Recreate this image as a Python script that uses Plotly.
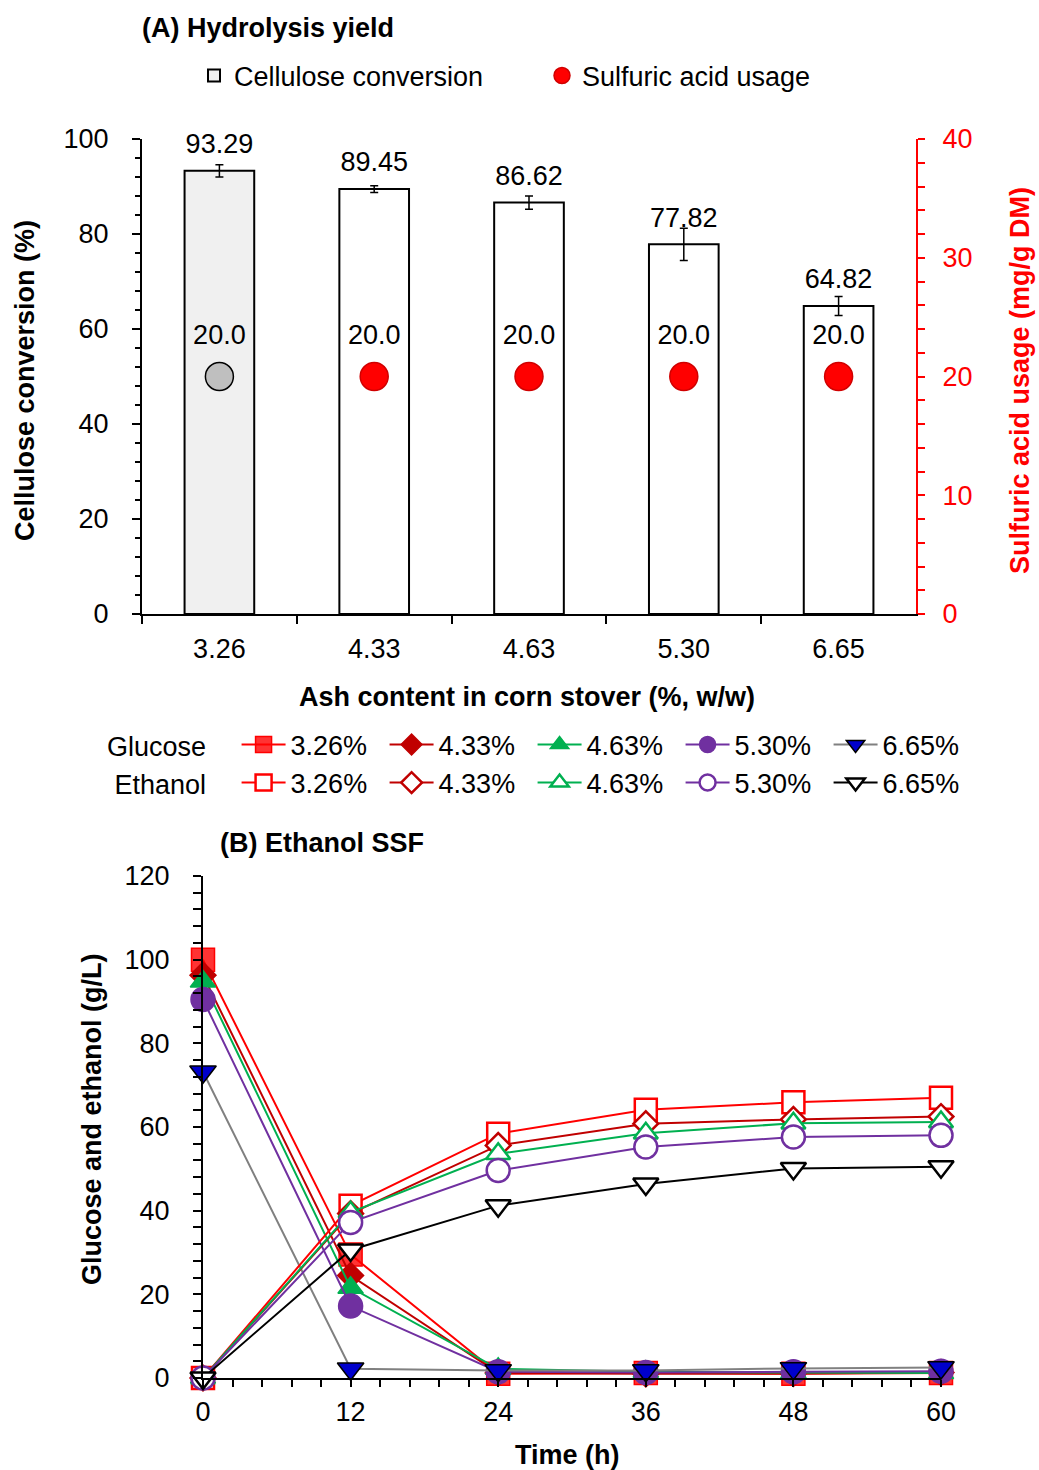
import plotly.graph_objects as go

W, H = 1039, 1470
FONT = "Liberation Sans, Arial, sans-serif"
FS = 27

# ---------------- Panel A data ----------------
ash_labels = ["3.26", "4.33", "4.63", "5.30", "6.65"]
cellulose_conv = [93.29, 89.45, 86.62, 77.82, 64.82]
cellulose_err = [1.3, 0.7, 1.4, 3.4, 2.0]
acid_usage = [20.0, 20.0, 20.0, 20.0, 20.0]

# ---------------- Panel B data ----------------
time_h = [0, 12, 24, 36, 48, 60]
series_names = ["3.26%", "4.33%", "4.63%", "5.30%", "6.65%"]
glucose = {
    "3.26%": [100.0, 29.5, 1.0, 1.2, 1.0, 1.2],
    "4.33%": [96.3, 24.5, 1.2, 1.0, 1.1, 1.3],
    "4.63%": [94.8, 21.6, 2.2, 1.5, 1.3, 1.2],
    "5.30%": [90.5, 17.2, 1.5, 1.3, 1.5, 1.6],
    "6.65%": [73.2, 2.2, 1.8, 1.8, 2.3, 2.5],
}
ethanol = {
    "3.26%": [0.0, 41.2, 58.4, 64.1, 65.9, 67.0],
    "4.33%": [0.0, 39.3, 55.6, 60.8, 61.8, 62.5],
    "4.63%": [0.0, 39.6, 53.6, 58.5, 60.9, 61.2],
    "5.30%": [0.0, 37.2, 49.6, 55.2, 57.6, 58.0],
    "6.65%": [0.0, 30.6, 41.2, 46.4, 50.1, 50.5],
}

# ---------------- styles ----------------
glu_style = {
    "3.26%": dict(symbol="square", size=23, fill="rgba(255,0,0,0.8)", edge="#FF0000", line="#FF0000"),
    "4.33%": dict(symbol="diamond", size=20, fill="#C00000", edge="#C00000", line="#C00000"),
    "4.63%": dict(symbol="triangle-up", size=22, fill="#00B050", edge="#00B050", line="#00B050"),
    "5.30%": dict(symbol="circle", size=24, fill="#7030A0", edge="#7030A0", line="#7030A0"),
    "6.65%": dict(symbol="triangle-down", size=23, fill="#0000CC", edge="#000000", line="#808080"),
}
eth_style = {
    "3.26%": dict(symbol="square", size=22, edge="#FF0000", line="#FF0000"),
    "4.33%": dict(symbol="diamond", size=19, edge="#C00000", line="#C00000"),
    "4.63%": dict(symbol="triangle-up", size=21, edge="#00B050", line="#00B050"),
    "5.30%": dict(symbol="circle", size=23, edge="#7030A0", line="#7030A0"),
    "6.65%": dict(symbol="triangle-down", size=22, edge="#000000", line="#000000"),
}

fig = go.Figure()

# Panel A bars
fig.add_trace(go.Bar(
    x=ash_labels, y=cellulose_conv, name="Cellulose conversion",
    marker=dict(color=["#F0F0F0", "white", "white", "white", "white"],
                line=dict(color="black", width=2)),
    width=0.45,
    error_y=dict(type="data", array=cellulose_err, thickness=1.5, width=4, color="black"),
    xaxis="x", yaxis="y", legend="legend",
))
# bar value labels (fixed offset above bar top)
fig.add_trace(go.Scatter(
    x=ash_labels, y=cellulose_conv,
    mode="markers+text", text=[f"{v:.2f}" for v in cellulose_conv],
    marker=dict(size=16, opacity=0),
    textposition="top center", textfont=dict(size=FS, color="black", family=FONT),
    showlegend=False, xaxis="x", yaxis="y", cliponaxis=False, hoverinfo="skip",
))
# acid usage: reference (grey) point and others (red)
fig.add_trace(go.Scatter(
    x=ash_labels[:1], y=acid_usage[:1], mode="markers", showlegend=False,
    marker=dict(size=28, color="#BFBFBF", line=dict(color="#000000", width=1.5)),
    xaxis="x", yaxis="y2", cliponaxis=False,
))
fig.add_trace(go.Scatter(
    x=ash_labels[1:], y=acid_usage[1:], name="Sulfuric acid usage", mode="markers",
    marker=dict(size=28, color="#FF0000", line=dict(color="#D00000", width=1.5)),
    xaxis="x", yaxis="y2", legend="legend", cliponaxis=False,
))
# acid usage value labels
fig.add_trace(go.Scatter(
    x=ash_labels, y=acid_usage, mode="markers+text",
    text=[f"{v:.1f}" for v in acid_usage], textposition="top center",
    marker=dict(size=40, opacity=0),
    textfont=dict(size=FS, color="black", family=FONT),
    showlegend=False, xaxis="x", yaxis="y2", cliponaxis=False, hoverinfo="skip",
))

# Panel B traces
for n in series_names:
    s = glu_style[n]
    fig.add_trace(go.Scatter(
        x=time_h, y=glucose[n], name=n, mode="lines+markers",
        line=dict(color=s["line"], width=2),
        marker=dict(symbol=s["symbol"], size=s["size"], color=s["fill"],
                    line=dict(color=s["edge"], width=1.5)),
        xaxis="x2", yaxis="y3", legend="legend2", cliponaxis=False,
    ))
for n in series_names:
    s = eth_style[n]
    fig.add_trace(go.Scatter(
        x=time_h, y=ethanol[n], name=n, mode="lines+markers",
        line=dict(color=s["line"], width=2),
        marker=dict(symbol=s["symbol"], size=s["size"], color="white",
                    line=dict(color=s["edge"], width=2.5)),
        xaxis="x2", yaxis="y3", legend="legend3", cliponaxis=False,
    ))


def px_x(p):
    return p / W


def px_y(p):
    return 1 - p / H


axis_common = dict(showline=True, linecolor="black", linewidth=2, showgrid=False,
                   zeroline=False, ticks="outside", tickcolor="black", tickwidth=2,
                   automargin=False,
                   tickfont=dict(size=FS, color="black", family=FONT))

NB = "&nbsp;"

fig.update_layout(
    width=W, height=H,
    margin=dict(l=0, r=0, t=0, b=0, autoexpand=False),
    paper_bgcolor="white", plot_bgcolor="white",
    font=dict(family=FONT, size=FS, color="black"),
    xaxis=dict(**axis_common, domain=[px_x(142), px_x(916)], anchor="y",
               type="category", range=[-0.5, 4.5], tickson="boundaries",
               ticklen=8, ticklabelstandoff=10),
    yaxis=dict(**axis_common, domain=[px_y(614), px_y(139)], anchor="x",
               range=[0, 100], dtick=20, ticklen=8, ticklabelstandoff=18,
               minor=dict(dtick=4, ticks="outside", ticklen=5, tickwidth=2, tickcolor="black")),
    yaxis2=dict(showline=True, linecolor="#FF0000", linewidth=2, showgrid=False, zeroline=False,
                ticks="outside", tickcolor="#FF0000", tickwidth=2, ticklen=7, automargin=False,
                tickfont=dict(size=FS, color="#FF0000", family=FONT),
                overlaying="y", side="right", anchor="x", range=[0, 40], dtick=10,
                ticklabelstandoff=12,
                minor=dict(dtick=2, ticks="outside", ticklen=7, tickwidth=2, tickcolor="#FF0000")),
    xaxis2=dict(**axis_common, domain=[px_x(203), px_x(941)], anchor="y3",
                range=[0, 60], tickvals=[0, 12, 24, 36, 48, 60], ticklen=7,
                ticklabelstandoff=2,
                minor=dict(dtick=2.4, ticks="outside", ticklen=7, tickwidth=2, tickcolor="black")),
    yaxis3=dict(**axis_common, domain=[px_y(1378), px_y(876)], anchor="x2",
                range=[0, 120], dtick=20, ticklen=8, ticklabelstandoff=18,
                minor=dict(dtick=4, ticks="outside", ticklen=8, tickwidth=2, tickcolor="black")),
    legend=dict(orientation="h", x=px_x(194), y=px_y(76), xanchor="left", yanchor="middle",
                font=dict(size=FS, family=FONT), entrywidth=303, itemwidth=30,
                bgcolor="rgba(0,0,0,0)"),
    legend2=dict(orientation="h", x=px_x(105), y=px_y(745), xanchor="left", yanchor="middle",
                 font=dict(size=FS, family=FONT), entrywidth=89, itemwidth=44,
                 title=dict(text="Glucose" + NB * 3, side="left", font=dict(size=FS, family=FONT)),
                 bgcolor="rgba(0,0,0,0)"),
    legend3=dict(orientation="h", x=px_x(112.5), y=px_y(783), xanchor="left", yanchor="middle",
                 font=dict(size=FS, family=FONT), entrywidth=89, itemwidth=44,
                 title=dict(text="Ethanol" + NB * 3, side="left", font=dict(size=FS, family=FONT)),
                 bgcolor="rgba(0,0,0,0)"),
    annotations=[
        dict(text="<b>(A) Hydrolysis yield</b>", x=px_x(140), y=px_y(28), xref="paper", yref="paper",
             xanchor="left", yanchor="middle", showarrow=False, font=dict(size=FS)),
        dict(text="<b>(B) Ethanol SSF</b>", x=px_x(218), y=px_y(843), xref="paper", yref="paper",
             xanchor="left", yanchor="middle", showarrow=False, font=dict(size=FS)),
        dict(text="<b>Cellulose conversion (%)</b>", x=px_x(25), y=px_y(381), xref="paper", yref="paper",
             xanchor="center", yanchor="middle", textangle=-90, showarrow=False, font=dict(size=FS)),
        dict(text="<b>Sulfuric acid usage (mg/g DM)</b>", x=px_x(1020), y=px_y(381), xref="paper",
             yref="paper", xanchor="center", yanchor="middle", textangle=-90, showarrow=False,
             font=dict(size=FS, color="#FF0000")),
        dict(text="<b>Ash content in corn stover (%, w/w)</b>", x=px_x(527), y=px_y(697), xref="paper",
             yref="paper", xanchor="center", yanchor="middle", showarrow=False, font=dict(size=FS)),
        dict(text="<b>Glucose and ethanol (g/L)</b>", x=px_x(92), y=px_y(1119), xref="paper",
             yref="paper", xanchor="center", yanchor="middle", textangle=-90, showarrow=False,
             font=dict(size=FS)),
        dict(text="<b>Time (h)</b>", x=px_x(567), y=px_y(1455), xref="paper", yref="paper",
             xanchor="center", yanchor="middle", showarrow=False, font=dict(size=FS)),
    ],
)

fig.write_html("out.html")
